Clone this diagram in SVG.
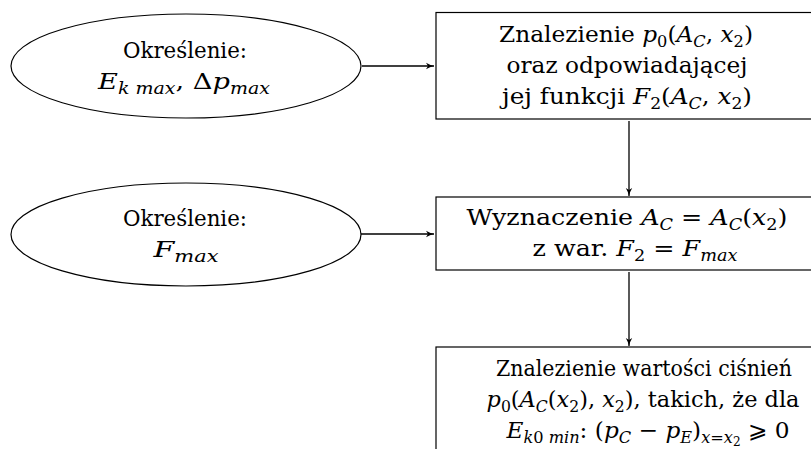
<svg xmlns="http://www.w3.org/2000/svg" width="811" height="449" viewBox="0 0 811 449">
<defs>
<marker id="arr" viewBox="0 0 10 10" refX="10" refY="5" markerWidth="8" markerHeight="8" markerUnits="userSpaceOnUse" orient="auto">
<path d="M0,1 Q5,4 10,5 Q5,6 0,9 L2.5,5 Z" fill="#000"/>
</marker>
</defs>
<style>
text{font-family:"DejaVu Serif","Liberation Serif",serif;font-size:23px;fill:#000;text-anchor:middle}
.i{font-style:italic}
.s{font-size:16px}
.si{font-size:16px;font-style:italic}
.shape{fill:#fff;stroke:#000;stroke-width:1.2}
.conn{stroke:#000;stroke-width:1.3;fill:none;marker-end:url(#arr)}
</style>
<rect width="811" height="449" fill="#fff"/>
<g id="connectors">
<line class="conn" x1="362" y1="66" x2="434" y2="66"/>
<line class="conn" x1="629" y1="121" x2="629" y2="196"/>
<line class="conn" x1="361" y1="234" x2="434" y2="234"/>
<line class="conn" x1="629" y1="272" x2="629" y2="346"/>
</g>
<g id="node-ellipse1">
<ellipse class="shape" cx="186" cy="66" rx="175" ry="52"/>
<text x="185" y="58" textLength="124" lengthAdjust="spacingAndGlyphs">Określenie:</text>
<text x="184" y="89" textLength="172" lengthAdjust="spacingAndGlyphs"><tspan class="i">E</tspan><tspan class="si" dy="5">k max</tspan><tspan dy="-5">, Δ</tspan><tspan class="i">p</tspan><tspan class="si" dy="5">max</tspan></text>
</g>
<g id="node-box1">
<rect class="shape" x="436" y="12.5" width="377" height="106.5"/>
<text x="626" y="42" textLength="254" lengthAdjust="spacingAndGlyphs">Znalezienie <tspan class="i">p</tspan><tspan class="s" dy="5">0</tspan><tspan dy="-5">(</tspan><tspan class="i">A</tspan><tspan class="si" dy="5">C</tspan><tspan dy="-5">, </tspan><tspan class="i">x</tspan><tspan class="s" dy="5">2</tspan><tspan dy="-5">)</tspan></text>
<text x="627" y="73" textLength="241" lengthAdjust="spacingAndGlyphs">oraz odpowiadającej</text>
<text x="627" y="104" textLength="250" lengthAdjust="spacingAndGlyphs">jej funkcji <tspan class="i">F</tspan><tspan class="s" dy="5">2</tspan><tspan dy="-5">(</tspan><tspan class="i">A</tspan><tspan class="si" dy="5">C</tspan><tspan dy="-5">, </tspan><tspan class="i">x</tspan><tspan class="s" dy="5">2</tspan><tspan dy="-5">)</tspan></text>
</g>
<g id="node-ellipse2">
<ellipse class="shape" cx="186" cy="234.5" rx="175" ry="51.5"/>
<text x="185" y="226" textLength="124" lengthAdjust="spacingAndGlyphs">Określenie:</text>
<text x="186" y="257" textLength="65" lengthAdjust="spacingAndGlyphs"><tspan class="i">F</tspan><tspan class="si" dy="5">max</tspan></text>
</g>
<g id="node-box2">
<rect class="shape" x="436" y="197" width="377" height="73"/>
<text x="627" y="225" textLength="321" lengthAdjust="spacingAndGlyphs">Wyznaczenie <tspan class="i">A</tspan><tspan class="si" dy="5">C</tspan><tspan dy="-5"> = </tspan><tspan class="i">A</tspan><tspan class="si" dy="5">C</tspan><tspan dy="-5">(</tspan><tspan class="i">x</tspan><tspan class="s" dy="5">2</tspan><tspan dy="-5">)</tspan></text>
<text x="635" y="256" textLength="205" lengthAdjust="spacingAndGlyphs">z war. <tspan class="i">F</tspan><tspan class="s" dy="5">2</tspan><tspan dy="-5">  =  </tspan><tspan class="i">F</tspan><tspan class="si" dy="5">max</tspan></text>
</g>
<g id="node-box3">
<rect class="shape" x="436" y="347" width="377" height="104"/>
<text x="644" y="376" textLength="296" lengthAdjust="spacingAndGlyphs">Znalezienie wartości ciśnień</text>
<text x="643" y="407" textLength="313" lengthAdjust="spacingAndGlyphs"><tspan class="i">p</tspan><tspan class="s" dy="5">0</tspan><tspan dy="-5">(</tspan><tspan class="i">A</tspan><tspan class="si" dy="5">C</tspan><tspan dy="-5">(</tspan><tspan class="i">x</tspan><tspan class="s" dy="5">2</tspan><tspan dy="-5">), </tspan><tspan class="i">x</tspan><tspan class="s" dy="5">2</tspan><tspan dy="-5">), takich, że dla</tspan></text>
<text x="648" y="438" textLength="283" lengthAdjust="spacingAndGlyphs"><tspan class="i">E</tspan><tspan class="si" dy="5">k</tspan><tspan class="s">0 </tspan><tspan class="si">min</tspan><tspan dy="-5">: (</tspan><tspan class="i">p</tspan><tspan class="si" dy="5">C</tspan><tspan dy="-5"> − </tspan><tspan class="i">p</tspan><tspan class="si" dy="5">E</tspan><tspan dy="-5">)</tspan><tspan class="si" dy="5">x</tspan><tspan class="s">=</tspan><tspan class="si">x</tspan><tspan class="s" dy="3" style="font-size:12px">2</tspan><tspan dy="-8"> ⩾ 0</tspan></text>
</g>
</svg>
